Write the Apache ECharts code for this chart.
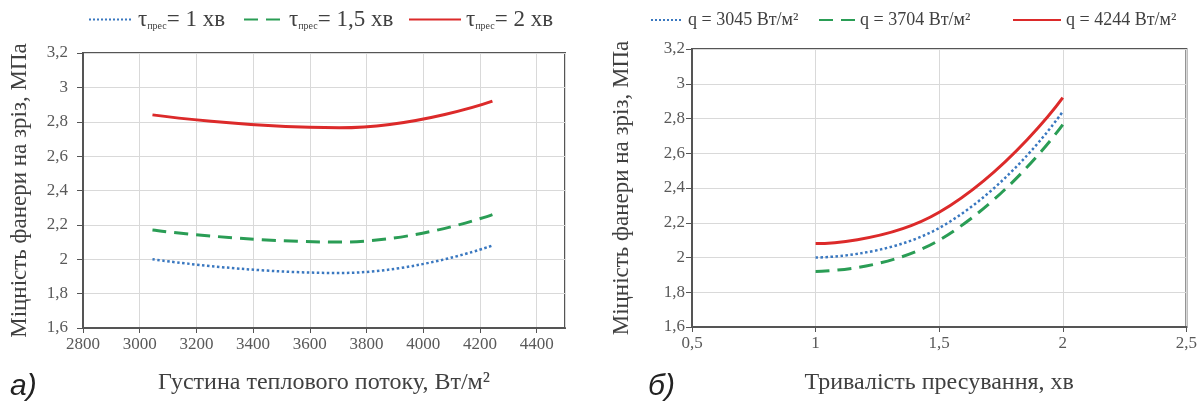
<!DOCTYPE html>
<html><head><meta charset="utf-8">
<script src="https://cdn.jsdelivr.net/npm/echarts@6/dist/echarts.min.js"></script>
<style>html,body{margin:0;padding:0;background:#fff}#c{width:1200px;height:405px}</style>
</head><body><div id="c"></div>
<script>
// Chart a) : x = heat flux density
const heatFlux = [3045, 3704, 4244];
const tau1 = [2.00, 1.92, 2.08];
const tau15 = [2.17, 2.10, 2.26];
const tau2 = [2.84, 2.765, 2.92];
// Chart б) : x = pressing time
const pressTime = [1, 1.5, 2];
const q3045 = [2.00, 2.17, 2.84];
const q3704 = [1.92, 2.10, 2.765];
const q4244 = [2.08, 2.26, 2.92];

const leftNames = ['τ1', 'τ15', 'τ2'];
const leftLabels = ['{t|τ}{s|прес}{t|= 1 хв}', '{t|τ}{s|прес}{t|= 1,5 хв}', '{t|τ}{s|прес}{t|= 2 хв}'];
const rightNames = ['q = 3045 Вт/м²', 'q = 3704 Вт/м²', 'q = 4244 Вт/м²'];
const yTitle = 'Міцність фанери на зріз, МПа';

const BLUE = '#3a78c0', GREEN = '#2a9d55', RED = '#dc2a2a';
const FONT = '"Liberation Serif", "Times New Roman", serif';
const TXT = '#404040';
const pair = (xs, ys) => xs.map((x, i) => [x, ys[i]]);
const fmtComma = v => String(+v.toFixed(2)).replace('.', ',');

function mkSeries(name, data, color, type, width, xi) {
  return { name, type: 'line', xAxisIndex: xi, yAxisIndex: xi, data, smooth: 0.5,
    symbol: 'none', lineStyle: { color, type, width }, itemStyle: { color } };
}
function yAx(gi, nameGap, margin) {
  return { gridIndex: gi, type: 'value', min: 1.6, max: 3.2, interval: 0.2,
    name: yTitle, nameLocation: 'middle', nameGap, nameRotate: 90,
    nameTextStyle: { fontFamily: FONT, fontSize: 23, color: TXT },
    axisLine: { show: true, lineStyle: { color: '#555', width: 2 } },
    axisTick: { show: true, length: 6, lineStyle: { color: '#555' } },
    axisLabel: { fontFamily: FONT, fontSize: 17, color: '#595959', margin, formatter: fmtComma },
    splitLine: { show: true, lineStyle: { color: '#d9d9d9', width: 1 } } };
}
function leg(name, left, w, fs, fmt) {
  const o = { left, top: fs > 18 ? 8 : 11, padding: 0, itemWidth: w, itemHeight: 14, data: [name],
    itemStyle: { opacity: 0 },
    textStyle: { fontFamily: FONT, fontSize: fs, color: TXT } };
  if (fmt) {
    o.formatter = fmt;
    o.textStyle.rich = { t: { fontFamily: FONT, fontSize: fs, color: TXT },
      s: { fontFamily: FONT, fontSize: 10, color: TXT, verticalAlign: 'bottom', padding: [9, 0, 0, 0] } };
  }
  return o;
}
const chart = echarts.init(document.getElementById('c'));
chart.setOption({
  animation: false,
  backgroundColor: '#fff',
  grid: [
    { left: 83, top: 53, width: 482, height: 275, show: true, borderColor: '#555', borderWidth: 2, backgroundColor: 'transparent' },
    { left: 692, top: 49, width: 500, height: 278, show: true, borderColor: '#555', borderWidth: 2, backgroundColor: 'transparent' }
  ],
  legend: [
    leg(leftNames[0], 88, 44, 23, () => leftLabels[0]),
    leg(leftNames[1], 243, 40, 23, () => leftLabels[1]),
    leg(leftNames[2], 408, 52, 23, () => leftLabels[2]),
    leg(rightNames[0], 650, 32, 18),
    leg(rightNames[1], 818, 36, 18),
    leg(rightNames[2], 1012, 48, 18)
  ],
  xAxis: [
    { gridIndex: 0, type: 'value', min: 2800, max: 4500, interval: 200,
      name: 'Густина теплового потоку, Вт/м²', nameLocation: 'middle', nameGap: 43,
      nameTextStyle: { fontFamily: FONT, fontSize: 24, color: TXT },
      axisLine: { show: true, lineStyle: { color: '#555', width: 2 } },
      axisTick: { show: true, length: 5, lineStyle: { color: '#555' } },
      axisLabel: { fontFamily: FONT, fontSize: 17, color: '#595959', margin: 8, showMaxLabel: false,
        formatter: v => v === 4500 ? '' : String(v) },
      splitLine: { show: true, lineStyle: { color: '#d9d9d9', width: 1 } } },
    { gridIndex: 1, type: 'value', min: 0.5, max: 2.5, interval: 0.5,
      name: 'Тривалість пресування, хв', nameLocation: 'middle', nameGap: 44,
      nameTextStyle: { fontFamily: FONT, fontSize: 24, color: TXT },
      axisLine: { show: true, lineStyle: { color: '#555', width: 2 } },
      axisTick: { show: true, length: 5, lineStyle: { color: '#555' } },
      axisLabel: { fontFamily: FONT, fontSize: 17, color: '#595959', margin: 8, formatter: fmtComma },
      splitLine: { show: true, lineStyle: { color: '#d9d9d9', width: 1 } } }
  ],
  yAxis: [ yAx(0, 52, 15), yAx(1, 59, 7) ],
  graphic: [
    { type: 'text', left: 10, top: 372, style: { text: 'а)', font: 'italic 30px "Liberation Sans", Arial, sans-serif', fill: '#222' } },
    { type: 'text', left: 648, top: 372, style: { text: 'б)', font: 'italic 30px "Liberation Sans", Arial, sans-serif', fill: '#222' } }
  ],
  series: [
    mkSeries(leftNames[0], pair(heatFlux, tau1), BLUE, 'dotted', 2.5, 0),
    mkSeries(leftNames[1], pair(heatFlux, tau15), GREEN, [14, 8], 3, 0),
    mkSeries(leftNames[2], pair(heatFlux, tau2), RED, 'solid', 3, 0),
    mkSeries(rightNames[0], pair(pressTime, q3045), BLUE, 'dotted', 2.5, 1),
    mkSeries(rightNames[1], pair(pressTime, q3704), GREEN, [14, 8], 3, 1),
    mkSeries(rightNames[2], pair(pressTime, q4244), RED, 'solid', 3, 1)
  ]
});
</script></body></html>
